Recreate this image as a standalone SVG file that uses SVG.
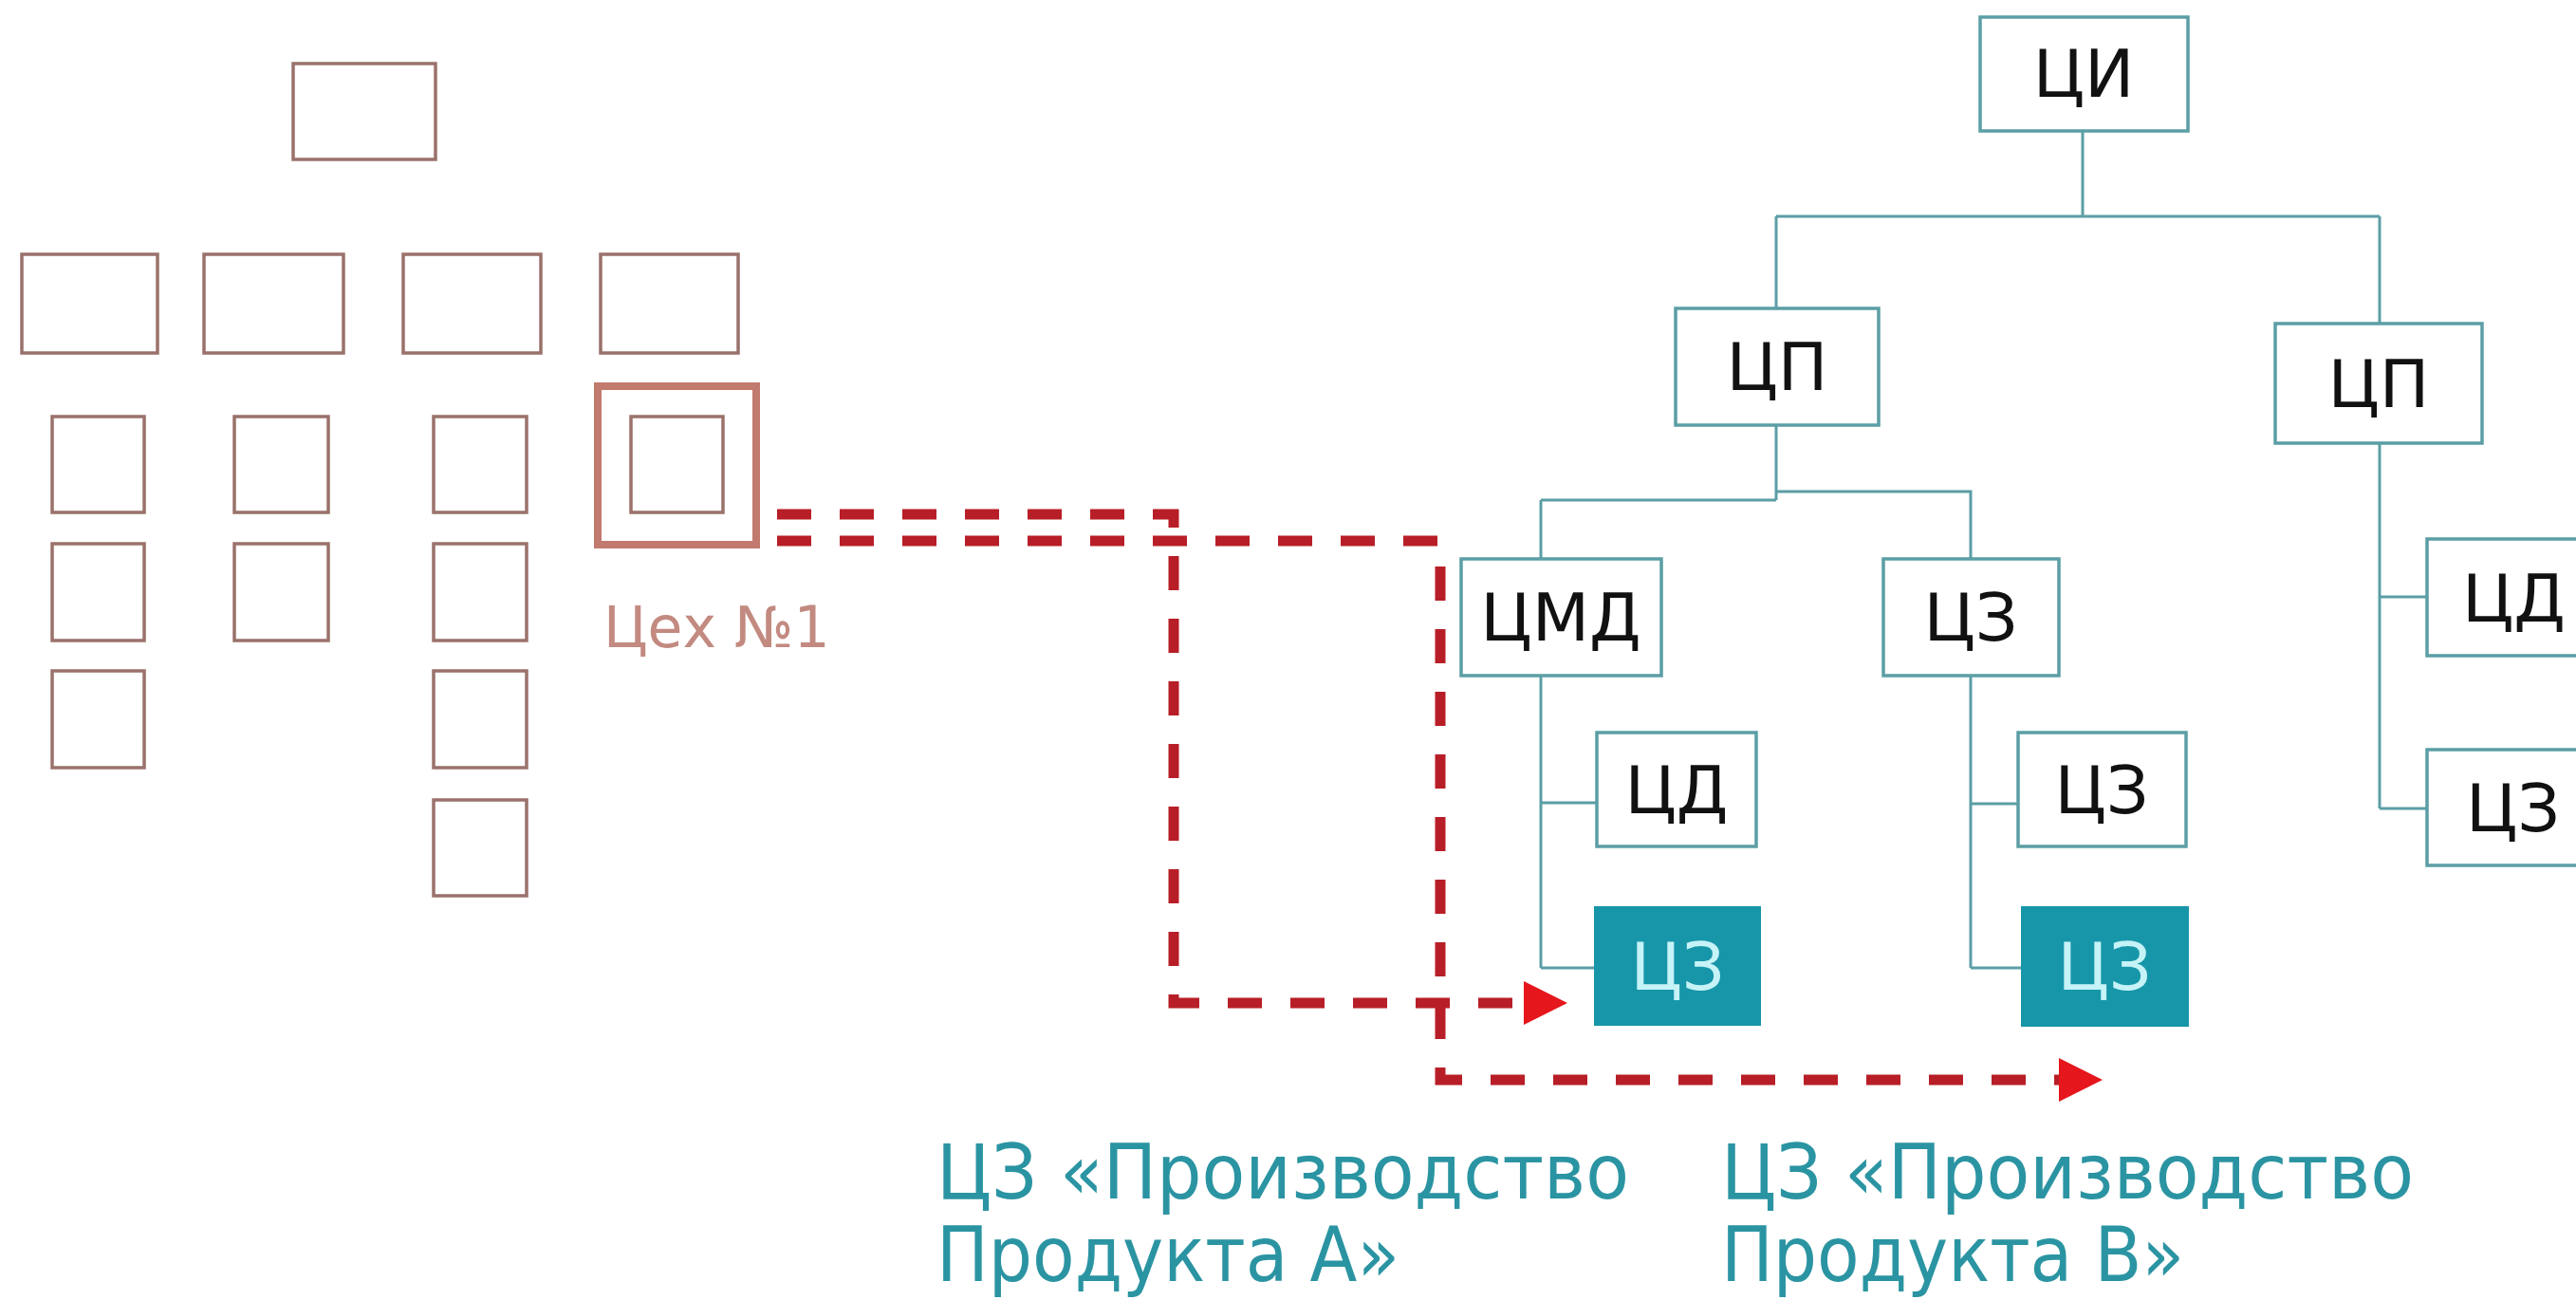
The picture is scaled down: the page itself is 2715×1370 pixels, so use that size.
<svg xmlns="http://www.w3.org/2000/svg" width="2715" height="1370" viewBox="0 0 2715 1370">
<style>
.bg{fill:#ffffff}
.lb{fill:#ffffff;stroke:#9a726b;stroke-width:3.5}
.lt{fill:none;stroke:#c27a6e;stroke-width:8}
.tb{fill:#ffffff;stroke:#5b9ea5;stroke-width:3.5}
.fb{fill:#1796a9;stroke:none}
.nt{font-family:"DejaVu Sans",Verdana,sans-serif;font-size:70px;fill:#111111;text-anchor:middle}
.ft{font-family:"DejaVu Sans",Verdana,sans-serif;font-size:70px;fill:#c6f3f7;text-anchor:middle}
.tl{fill:none;stroke:#5b9ea5;stroke-width:3}
.dl{fill:none;stroke:#b81e27;stroke-width:11;stroke-dasharray:36 30}
.cap{font-family:"DejaVu Sans",Verdana,sans-serif;font-size:80px;fill:#2b94a2}
.sh{font-family:"DejaVu Sans",Verdana,sans-serif;font-size:60px;fill:#c28a80}
</style>
<defs>
<marker id="ah" markerUnits="userSpaceOnUse" markerWidth="50" markerHeight="50" refX="0" refY="23" orient="auto">
<path d="M0,0 L46,23 L0,46 Z" fill="#e5161c"/>
</marker>
</defs>
<rect class="bg" x="0" y="0" width="2715" height="1370"/>

<g id="left-structure">
<rect class="lb" x="309" y="67" width="150" height="101"/>
<rect class="lb" x="23" y="268" width="143" height="104"/>
<rect class="lb" x="215" y="268" width="147" height="104"/>
<rect class="lb" x="425" y="268" width="145" height="104"/>
<rect class="lb" x="633" y="268" width="145" height="104"/>
<rect class="lb" x="55" y="439" width="97" height="101"/>
<rect class="lb" x="55" y="573" width="97" height="102"/>
<rect class="lb" x="55" y="707" width="97" height="102"/>
<rect class="lb" x="247" y="439" width="99" height="101"/>
<rect class="lb" x="247" y="573" width="99" height="102"/>
<rect class="lb" x="457" y="439" width="98" height="101"/>
<rect class="lb" x="457" y="573" width="98" height="102"/>
<rect class="lb" x="457" y="707" width="98" height="102"/>
<rect class="lb" x="457" y="843" width="98" height="101"/>
</g>

<g id="shop1">
<rect class="lb" x="665" y="439" width="97" height="101"/>
<rect class="lt" x="630" y="407" width="167" height="167"/>
<text class="sh" x="636" y="682">Цех №1</text>
</g>

<g id="connectors">
<path class="tl" d="M2195 138 V228 M1872 228 H2508 M1872 228 V325 M2508 228 V341"/>
<path class="tl" d="M1872 448 V527 M1872 518 H2077 V589 M1624 527 H1872 M1624 527 V589"/>
<path class="tl" d="M1624 712 V1020 M1624 846 H1683 M1624 1020 H1680"/>
<path class="tl" d="M2077 712 V1020 M2077 847 H2127 M2077 1020 H2130"/>
<path class="tl" d="M2508 467 V852 M2508 629 H2558 M2508 852 H2558"/>
<path class="dl" d="M819 542 H1237 V1057 H1606" marker-end="url(#ah)"/>
<path class="dl" d="M819 570 H1518 V1138 H2170" marker-end="url(#ah)"/>
</g>

<g id="node-ci"><rect class="tb" x="2087" y="18" width="219" height="120"/><text class="nt" x="2196" y="102">ЦИ</text></g>
<g id="node-cp1"><rect class="tb" x="1766" y="325" width="214" height="123"/><text class="nt" x="1873" y="411">ЦП</text></g>
<g id="node-cp2"><rect class="tb" x="2398" y="341" width="218" height="126"/><text class="nt" x="2507" y="429">ЦП</text></g>
<g id="node-cmd"><rect class="tb" x="1540" y="589" width="211" height="123"/><text class="nt" x="1645" y="675">ЦМД</text></g>
<g id="node-cz1"><rect class="tb" x="1985" y="589" width="185" height="123"/><text class="nt" x="2077" y="675">ЦЗ</text></g>
<g id="node-cd1"><rect class="tb" x="1683" y="772" width="168" height="120"/><text class="nt" x="1767" y="857">ЦД</text></g>
<g id="node-cz2"><rect class="tb" x="2127" y="772" width="177" height="120"/><text class="nt" x="2215" y="857">ЦЗ</text></g>
<g id="node-cz-a"><rect class="fb" x="1680" y="955" width="176" height="126"/><text class="ft" x="1768" y="1043">ЦЗ</text></g>
<g id="node-cz-b"><rect class="fb" x="2130" y="955" width="177" height="127"/><text class="ft" x="2218" y="1043">ЦЗ</text></g>
<g id="node-cd2"><rect class="tb" x="2558" y="568" width="200" height="123"/><text class="nt" x="2595" y="655" style="text-anchor:start">ЦД</text></g>
<g id="node-cz3"><rect class="tb" x="2558" y="790" width="200" height="122"/><text class="nt" x="2599" y="876" style="text-anchor:start">ЦЗ</text></g>

<g id="caption-a">
<text class="cap" x="987" y="1263" textLength="730" lengthAdjust="spacingAndGlyphs">ЦЗ «Производство</text>
<text class="cap" x="987" y="1350" textLength="488" lengthAdjust="spacingAndGlyphs">Продукта А»</text>
</g>
<g id="caption-b">
<text class="cap" x="1814" y="1263" textLength="730" lengthAdjust="spacingAndGlyphs">ЦЗ «Производство</text>
<text class="cap" x="1814" y="1350" textLength="488" lengthAdjust="spacingAndGlyphs">Продукта В»</text>
</g>
</svg>
